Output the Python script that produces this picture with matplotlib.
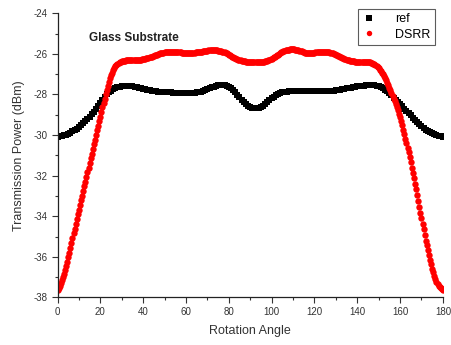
import numpy as np
import matplotlib
matplotlib.use("Agg")
import matplotlib.pyplot as plt
from matplotlib.ticker import MultipleLocator

# ref series sampled every 1 degree
angles_ref = list(range(0, 181))

ref = [
    -30.08, -30.07, -30.05, -30.02, -29.98, -29.94, -29.88, -29.82, -29.75, -29.68,
    -29.60, -29.51, -29.42, -29.32, -29.22, -29.10, -28.97, -28.84, -28.70, -28.55,
    -28.40, -28.26, -28.12, -28.00, -27.90, -27.81, -27.74, -27.68, -27.64, -27.61,
    -27.59, -27.58, -27.57, -27.57, -27.58, -27.60, -27.62, -27.64, -27.67, -27.70,
    -27.72, -27.75, -27.78, -27.80, -27.82, -27.84, -27.85, -27.86, -27.87, -27.88,
    -27.88, -27.89, -27.90, -27.90, -27.91, -27.91, -27.92, -27.92, -27.92, -27.92,
    -27.92, -27.92, -27.92, -27.91, -27.91, -27.90, -27.88, -27.86, -27.83, -27.79,
    -27.74, -27.70, -27.65, -27.61, -27.58, -27.55, -27.54, -27.53, -27.54, -27.57,
    -27.62, -27.70, -27.78, -27.89, -28.01, -28.13, -28.26, -28.38, -28.48, -28.57,
    -28.63, -28.67, -28.69, -28.69, -28.67, -28.62, -28.55, -28.47, -28.38, -28.28,
    -28.18, -28.10, -28.03, -27.97, -27.93, -27.90, -27.88, -27.86, -27.85, -27.84,
    -27.83, -27.83, -27.82, -27.82, -27.82, -27.82, -27.82, -27.83, -27.83, -27.83,
    -27.83, -27.83, -27.83, -27.83, -27.83, -27.83, -27.83, -27.83, -27.82, -27.81,
    -27.80, -27.78, -27.76, -27.74, -27.72, -27.70, -27.68, -27.66, -27.64, -27.62,
    -27.60, -27.58, -27.57, -27.56, -27.55, -27.54, -27.54, -27.54, -27.55, -27.57,
    -27.60, -27.65, -27.70, -27.77, -27.85, -27.94, -28.04, -28.15, -28.26, -28.37,
    -28.48, -28.59, -28.70, -28.81, -28.92, -29.03, -29.14, -29.25, -29.36, -29.47,
    -29.57, -29.66, -29.74, -29.81, -29.87, -29.92, -29.97, -30.01, -30.04, -30.06,
    -30.08,
]

# DSRR series sampled every 0.5 degree
angles_dsrr = [i * 0.5 for i in range(361)]

dsrr = [
    -37.62, -37.56, -37.45, -37.31, -37.15, -37.00, -36.85, -36.66, -36.45, -36.24,
    -36.02, -35.79, -35.55, -35.31, -35.08, -34.85, -34.62, -34.38, -34.15, -33.91,
    -33.68, -33.45, -33.22, -32.99, -32.76, -32.53, -32.30, -32.07, -31.84, -31.61,
    -31.38, -31.15, -30.92, -30.69, -30.46, -30.23, -30.00, -29.77, -29.55, -29.32,
    -29.10, -28.87, -28.64, -28.42, -28.20, -27.99, -27.78, -27.58, -27.38, -27.20,
    -27.05, -26.92, -26.80, -26.70, -26.62, -26.55, -26.50, -26.46, -26.42, -26.39,
    -26.37, -26.35, -26.34, -26.33, -26.32, -26.31, -26.31, -26.31, -26.31, -26.31,
    -26.31, -26.30, -26.30, -26.30, -26.30, -26.29, -26.29, -26.28, -26.28, -26.27,
    -26.26, -26.25, -26.24, -26.22, -26.21, -26.19, -26.17, -26.15, -26.13, -26.11,
    -26.09, -26.07, -26.05, -26.03, -26.01, -25.99, -25.98, -25.96, -25.95, -25.94,
    -25.93, -25.92, -25.91, -25.90, -25.90, -25.90, -25.90, -25.90, -25.90, -25.90,
    -25.91, -25.91, -25.92, -25.92, -25.93, -25.93, -25.94, -25.94, -25.95, -25.95,
    -25.95, -25.95, -25.95, -25.95, -25.95, -25.94, -25.94, -25.94, -25.94, -25.93,
    -25.93, -25.92, -25.92, -25.91, -25.90, -25.89, -25.88, -25.87, -25.86, -25.85,
    -25.84, -25.83, -25.82, -25.81, -25.81, -25.81, -25.81, -25.81, -25.82, -25.83,
    -25.84, -25.85, -25.86, -25.87, -25.89, -25.91, -25.93, -25.95, -25.98, -26.01,
    -26.04, -26.07, -26.10, -26.13, -26.16, -26.18, -26.21, -26.23, -26.26, -26.28,
    -26.30, -26.31, -26.33, -26.35, -26.36, -26.37, -26.38, -26.38, -26.39, -26.39,
    -26.40, -26.40, -26.40, -26.40, -26.41, -26.41, -26.41, -26.41, -26.41, -26.40,
    -26.40, -26.39, -26.39, -26.38, -26.37, -26.36, -26.34, -26.32, -26.30, -26.27,
    -26.24, -26.21, -26.17, -26.14, -26.10, -26.07, -26.03, -25.99, -25.96, -25.93,
    -25.90, -25.87, -25.85, -25.83, -25.81, -25.80, -25.79, -25.78, -25.78, -25.78,
    -25.78, -25.78, -25.79, -25.80, -25.81, -25.82, -25.84, -25.86, -25.88, -25.90,
    -25.92, -25.94, -25.95, -25.96, -25.96, -25.96, -25.96, -25.95, -25.95, -25.94,
    -25.94, -25.93, -25.93, -25.92, -25.92, -25.91, -25.91, -25.90, -25.90, -25.90,
    -25.90, -25.90, -25.91, -25.92, -25.93, -25.94, -25.96, -25.98, -26.00, -26.02,
    -26.04, -26.06, -26.09, -26.11, -26.14, -26.16, -26.19, -26.21, -26.24, -26.26,
    -26.28, -26.30, -26.32, -26.33, -26.35, -26.36, -26.37, -26.37, -26.38, -26.38,
    -26.38, -26.38, -26.38, -26.38, -26.38, -26.38, -26.38, -26.38, -26.39, -26.39,
    -26.40, -26.41, -26.42, -26.44, -26.46, -26.49, -26.52, -26.56, -26.60, -26.65,
    -26.70, -26.77, -26.84, -26.92, -27.00, -27.10, -27.20, -27.31, -27.42, -27.54,
    -27.66, -27.79, -27.92, -28.06, -28.20, -28.34, -28.48, -28.63, -28.78, -28.94,
    -29.10, -29.31, -29.52, -29.74, -29.96, -30.18, -30.40, -30.62, -30.85, -31.10,
    -31.35, -31.60, -31.85, -32.12, -32.40, -32.67, -32.95, -33.25, -33.55, -33.82,
    -34.10, -34.37, -34.65, -34.92, -35.20, -35.44, -35.68, -35.92, -36.15, -36.37,
    -36.58, -36.77, -36.95, -37.10, -37.25, -37.36, -37.45, -37.51, -37.56, -37.60,
    -37.62,
]

x_ticks = [0, 20, 40, 60, 80, 100, 120, 140, 160, 180]
y_ticks = [-38, -36, -34, -32, -30, -28, -26, -24]

plt.rcParams['font.family'] = ['Liberation Sans', 'DejaVu Sans']
plt.rcParams['axes.unicode_minus'] = False

fig = plt.figure(figsize=(4.51, 3.45), dpi=100)
ax = fig.add_axes([0.1275, 0.138, 0.8545, 0.8234])

ax.plot(angles_ref, ref, linestyle='none', marker='s', ms=5.0, color='black',
        markeredgewidth=0, label='ref')
ax.plot(angles_dsrr, dsrr, linestyle='none', marker='o', ms=4.6, color='#ff0000',
        markeredgewidth=0, label='DSRR')

ax.set_xlim(0, 180)
ax.set_ylim(-38, -24)
ax.set_xticks(x_ticks)
ax.set_yticks(y_ticks)
ax.xaxis.set_minor_locator(MultipleLocator(10))
ax.yaxis.set_minor_locator(MultipleLocator(1))

for s in ['top', 'right']:
    ax.spines[s].set_visible(False)
for s in ['left', 'bottom']:
    ax.spines[s].set_linewidth(0.9)
    ax.spines[s].set_color('#222222')

ax.tick_params(which='major', direction='out', length=4, width=0.8,
               labelsize=7, colors='#333333', pad=3)
ax.tick_params(which='minor', direction='out', length=2.5, width=0.8, colors='#333333')

ax.set_xlabel('Rotation Angle', fontsize=9, color='#333333', labelpad=6)
ax.set_ylabel('Transmission Power (dBm)', fontsize=9, color='#333333', labelpad=6)

ax.text(0.083, 0.912, 'Glass Substrate', transform=ax.transAxes, fontsize=8.5,
        fontweight='bold', color='#222222', va='center', ha='left')

leg = ax.legend(loc='upper right', bbox_to_anchor=(0.979, 1.015), fontsize=9,
                frameon=True, fancybox=False, edgecolor='#333333',
                handlelength=1.0, handletextpad=1.6, borderpad=0.35,
                labelspacing=0.25, markerscale=0.85, borderaxespad=0)
leg.get_frame().set_linewidth(0.8)

fig.savefig('out.png', dpi=100)
